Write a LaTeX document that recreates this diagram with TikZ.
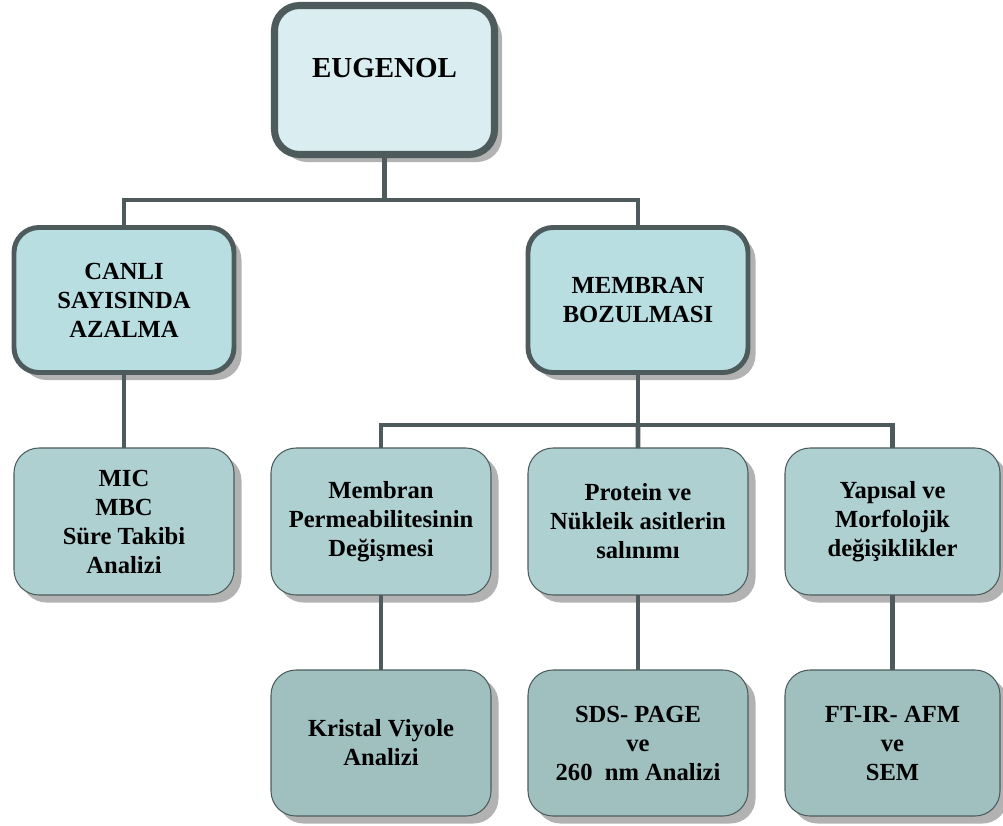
\documentclass[tikz,border=0pt]{standalone}
\usepackage{fontspec}
\setmainfont{Liberation Serif}
\usepackage{xcolor}
\usepackage{tikz}
\usetikzlibrary{positioning,shadows}

\definecolor{edgegray}{RGB}{77,91,92}
\definecolor{topfill}{RGB}{218,237,240}
\definecolor{midfill}{RGB}{184,222,226}
\definecolor{lowfill}{RGB}{175,208,209}
\definecolor{basefill}{RGB}{160,192,192}

\begin{document}
\begin{tikzpicture}[
        font=\fontsize{14}{16.5}\selectfont\bfseries,
        box/.style={rectangle, draw=edgegray, align=center, rounded corners=0.5cm,
                    outer sep=0pt,
                    drop shadow={shadow xshift=0.15cm, shadow yshift=-0.15cm,
                                 fill=gray!60, opacity=1}},
        topbox/.style={box, fill=topfill, line width=4pt, minimum width=4.4cm,
                       minimum height=2.98cm, font=\fontsize{16.5}{19}\selectfont\bfseries},
        midbox/.style={box, fill=midfill, line width=2.8pt, minimum width=4.4cm,
                       minimum height=2.9cm},
        lowbox/.style={box, fill=lowfill, line width=0.6pt, minimum width=4.4cm,
                       minimum height=2.94cm},
        basebox/.style={lowbox, fill=basefill, minimum height=2.92cm},
        link/.style={draw=edgegray, line width=2.8pt}
      ]
        \useasboundingbox (0,0) rectangle (20.06,-16.5);

        % Top block
        \node [topbox] (eugenol) at (7.69,-1.6) {\raisebox{0.5cm}{EUGENOL}};

        % Second level
        \node [midbox] (canli) at (2.48,-6.0) {CANLI\\SAYISINDA\\AZALMA};
        \node [midbox] (bozulma) at (12.76,-6.0) {MEMBRAN\\BOZULMASI};

        % Third level
        \node [lowbox] (mic) at (2.48,-10.43) {MIC\\MBC\\Süre Takibi\\Analizi};
        \node [lowbox, right=0.74cm of mic] (permeab) {Membran\\Permeabilitesinin\\Değişmesi};
        \node [lowbox, right=0.74cm of permeab] (protein) {Protein ve\\Nükleik asitlerin\\salınımı};
        \node [lowbox, right=0.74cm of protein, minimum width=4.3cm] (yapisal) {Yapısal ve\\Morfolojik\\değişiklikler};

        % Analyses
        \node [basebox, below=1.5cm of permeab] (kristal) {Kristal Viyole\\Analizi};
        \node [basebox, below=1.5cm of protein] (sds) {SDS- PAGE\\ve\\260\ \ nm Analizi};
        \node [basebox, below=1.5cm of yapisal, minimum width=4.3cm] (ftir) {FT-IR- AFM\\ve\\SEM};

        % Lines
        \coordinate (bus1) at (7.69,-4.0);
        \coordinate (bus2) at (12.76,-8.5);
        \draw [link] (eugenol.south) -- (bus1);
        \draw [link] (bus1) -| (canli.north);
        \draw [link] (bus1) -| (bozulma.north);
        \draw [link] (canli.south) -- (mic.north);
        \draw [link] (bozulma.south) -- (bus2);
        \draw [link] (bus2) -| (permeab.north);
        \draw [link] (bus2) -- (protein.north);
        \draw [link] (bus2) -| (yapisal.north);
        \draw [link] (permeab.south) -- (kristal.north);
        \draw [link] (protein.south) -- (sds.north);
        \draw [link] (yapisal.south) -- (ftir.north);
      \end{tikzpicture}
\end{document}
